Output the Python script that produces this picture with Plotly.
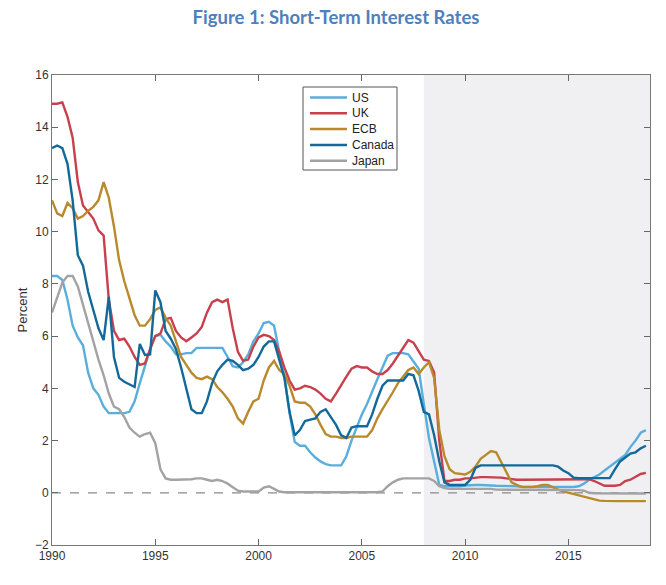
import plotly.graph_objects as go

start_year = 1990
n_quarters = 116
quarters = [start_year + q / 4 for q in range(n_quarters)]

us = [
    8.3, 8.3, 8.15, 7.4,
    6.4, 5.95, 5.65, 4.6,
    4.0, 3.75, 3.3, 3.05,
    3.05, 3.05, 3.05, 3.1,
    3.5, 4.2, 4.9, 5.5,
    6.0, 6.05, 5.8, 5.6,
    5.3, 5.3, 5.35, 5.35,
    5.55, 5.55, 5.55, 5.55,
    5.55, 5.55, 5.2, 4.85,
    4.8, 5.0, 5.3, 5.8,
    6.1, 6.5, 6.55, 6.4,
    5.4, 4.5, 3.05, 1.95,
    1.8, 1.8, 1.55, 1.35,
    1.2, 1.1, 1.05, 1.05,
    1.05, 1.4, 2.0, 2.5,
    3.0, 3.4, 3.9, 4.35,
    4.8, 5.25, 5.35, 5.35,
    5.35, 5.3, 5.0, 4.75,
    3.4, 2.1, 1.2, 0.3,
    0.25, 0.25, 0.25, 0.25,
    0.28, 0.3, 0.3, 0.3,
    0.3, 0.28, 0.27, 0.27,
    0.25, 0.25, 0.25, 0.23,
    0.22, 0.22, 0.22, 0.22,
    0.22, 0.22, 0.22, 0.22,
    0.22, 0.22, 0.25, 0.35,
    0.5, 0.6, 0.7, 0.85,
    1.0, 1.15, 1.3, 1.45,
    1.75, 2.0, 2.3, 2.4,
]

uk = [
    14.9, 14.9, 14.95, 14.4,
    13.6, 11.9, 11.0, 10.75,
    10.5, 10.05, 9.85, 7.4,
    6.2, 5.85, 5.9, 5.6,
    5.2, 4.9, 4.95, 5.5,
    6.0, 6.1, 6.65, 6.7,
    6.2, 5.95, 5.8, 5.95,
    6.1, 6.35, 6.9, 7.3,
    7.4, 7.3, 7.4, 6.3,
    5.4, 5.05, 5.1, 5.6,
    5.95, 6.05, 6.0, 5.85,
    5.4, 4.8, 4.3, 3.95,
    4.0, 4.1, 4.05, 3.95,
    3.8, 3.6, 3.5, 3.8,
    4.15, 4.45, 4.75, 4.85,
    4.8, 4.8, 4.65, 4.55,
    4.55, 4.7, 4.95, 5.25,
    5.5, 5.85, 5.75, 5.4,
    5.1, 5.05, 4.6, 2.0,
    0.45, 0.45, 0.5, 0.5,
    0.55, 0.55, 0.58, 0.6,
    0.6, 0.6, 0.6, 0.58,
    0.55, 0.52, 0.5, 0.5,
    0.5, 0.5, 0.5, 0.5,
    0.5, 0.5, 0.52, 0.52,
    0.52, 0.52, 0.52, 0.52,
    0.52, 0.45, 0.35, 0.27,
    0.27, 0.27, 0.3, 0.45,
    0.5, 0.6, 0.72, 0.76,
]

ecb = [
    11.2, 10.7, 10.6, 11.1,
    10.9, 10.5, 10.6, 10.8,
    10.95, 11.2, 11.9, 11.3,
    10.2, 8.9, 8.1, 7.4,
    6.8, 6.4, 6.4, 6.65,
    7.0, 7.1, 6.7, 6.4,
    5.8, 5.2, 4.9, 4.6,
    4.4, 4.35, 4.45, 4.35,
    4.05, 3.85, 3.6, 3.3,
    2.85, 2.65, 3.1, 3.5,
    3.6, 4.3, 4.8, 5.05,
    4.7, 4.55, 4.1, 3.5,
    3.45, 3.45, 3.3, 3.0,
    2.6, 2.25, 2.15, 2.15,
    2.1, 2.1, 2.15, 2.15,
    2.15, 2.15, 2.4, 2.85,
    3.2, 3.5, 3.85, 4.2,
    4.45, 4.7, 4.8, 4.55,
    4.8, 5.0, 4.4, 2.4,
    1.4, 0.9, 0.75, 0.72,
    0.7, 0.8, 1.0, 1.3,
    1.45, 1.6, 1.55, 1.15,
    0.75, 0.4, 0.3, 0.22,
    0.22, 0.22, 0.25, 0.3,
    0.3, 0.2, 0.12, 0.05,
    0.0, -0.05, -0.1, -0.15,
    -0.22, -0.27, -0.3, -0.31,
    -0.32, -0.32, -0.32, -0.32,
    -0.32, -0.32, -0.32, -0.32,
]

canada = [
    13.2, 13.3, 13.2, 12.6,
    11.2, 9.1, 8.7, 7.7,
    7.0, 6.3, 5.85, 7.5,
    5.2, 4.4, 4.25, 4.15,
    4.05, 5.7, 5.28, 5.3,
    7.75, 7.3, 6.2, 5.9,
    5.5, 4.8, 3.95, 3.2,
    3.05, 3.05, 3.5, 4.2,
    4.65, 4.9, 5.1, 5.05,
    4.9, 4.7, 4.75, 4.9,
    5.2, 5.6, 5.8, 5.8,
    5.1, 4.4, 3.1, 2.2,
    2.4, 2.75, 2.8, 2.85,
    3.1, 3.2, 2.9, 2.6,
    2.2, 2.1, 2.5, 2.55,
    2.55, 2.55, 3.0, 3.6,
    4.1, 4.3, 4.3, 4.3,
    4.3, 4.55, 4.5, 3.9,
    3.1, 3.0, 2.2, 1.2,
    0.4, 0.3, 0.3, 0.3,
    0.3, 0.5, 0.95, 1.05,
    1.05, 1.05, 1.05, 1.05,
    1.05, 1.05, 1.05, 1.05,
    1.05, 1.05, 1.05, 1.05,
    1.05, 1.05, 1.0, 0.85,
    0.75, 0.58, 0.56, 0.56,
    0.56, 0.56, 0.56, 0.56,
    0.56, 0.9, 1.2, 1.35,
    1.5, 1.55, 1.7, 1.8,
]

japan = [
    6.9, 7.5, 8.05, 8.3,
    8.3, 7.9, 7.2, 6.4,
    5.7, 5.1, 4.5, 3.8,
    3.3, 3.2, 2.9, 2.5,
    2.3, 2.15, 2.25, 2.3,
    1.9, 0.9, 0.55, 0.5,
    0.5, 0.5, 0.5, 0.52,
    0.55, 0.55, 0.5, 0.45,
    0.5, 0.45, 0.35, 0.2,
    0.08, 0.05, 0.05, 0.05,
    0.05, 0.2, 0.25, 0.15,
    0.05, 0.02, 0.02, 0.02,
    0.02, 0.02, 0.02, 0.02,
    0.02, 0.02, 0.02, 0.02,
    0.02, 0.02, 0.02, 0.02,
    0.02, 0.02, 0.02, 0.02,
    0.05, 0.25, 0.4, 0.5,
    0.55, 0.55, 0.55, 0.55,
    0.55, 0.55, 0.45, 0.25,
    0.18, 0.15, 0.15, 0.15,
    0.15, 0.15, 0.15, 0.15,
    0.15, 0.15, 0.12, 0.12,
    0.12, 0.12, 0.12, 0.12,
    0.12, 0.12, 0.12, 0.12,
    0.12, 0.12, 0.1, 0.1,
    0.1, 0.1, 0.1, 0.08,
    0.0, -0.02, -0.02, -0.02,
    -0.02, -0.02, -0.02, -0.02,
    -0.03, -0.03, -0.03, -0.03,
]

series_names = ["US", "UK", "ECB", "Canada", "Japan"]
series_values = [us, uk, ecb, canada, japan]
series_colors = ["#5aaedd", "#c7404c", "#b98a2c", "#13699a", "#a3a3a3"]

shade_start = 2008
x_range = [1990, 2018.95]
y_range = [-2, 16]
x_ticks = [1990, 1995, 2000, 2005, 2010, 2015]
y_ticks = [-2, 0, 2, 4, 6, 8, 10, 12, 14, 16]

W, H = 666, 585
ML, MR, MT, MB = 52, 16, 75, 40
PW, PH = W - ML - MR, H - MT - MB


def px_x(px):
    return (px - ML) / PW


def px_y(py):
    return (H - MB - py) / PH


fig = go.Figure()
for name, vals, col in zip(series_names, series_values, series_colors):
    fig.add_trace(go.Scatter(x=quarters, y=vals, mode="lines", name=name,
                             line=dict(color=col, width=2.4), showlegend=False))

fig.add_shape(type="rect", xref="x", yref="paper", x0=shade_start, x1=x_range[1],
              y0=0, y1=1, fillcolor="#f0f0f3", line_width=0, layer="below")
fig.add_shape(type="line", xref="paper", yref="y", x0=0, x1=1, y0=0, y1=0,
              line=dict(color="#8a8a8a", width=1.3, dash="dash"), layer="below")

# manual legend box (matches compact MATLAB-style legend)
fig.add_shape(type="rect", xref="paper", yref="paper",
              x0=px_x(303), x1=px_x(397), y0=px_y(170), y1=px_y(87),
              fillcolor="white", line=dict(color="#555555", width=1), layer="above")
row_y = [97.5, 113.2, 129, 145, 160.8]
for name, col, ry in zip(series_names, series_colors, row_y):
    fig.add_shape(type="line", xref="paper", yref="paper",
                  x0=px_x(310), x1=px_x(347), y0=px_y(ry), y1=px_y(ry),
                  line=dict(color=col, width=2.6), layer="above")
    fig.add_annotation(xref="paper", yref="paper", x=px_x(350), y=px_y(ry),
                       text=name, showarrow=False, xanchor="left", yanchor="middle",
                       font=dict(family="Liberation Sans, Arial", size=12, color="#222222"))

axis_font = dict(family="Liberation Sans, Arial", size=12, color="#333333")
fig.update_layout(
    width=W, height=H,
    margin=dict(l=ML, r=MR, t=MT, b=MB, autoexpand=False),
    paper_bgcolor="white", plot_bgcolor="white",
    title=dict(text="<b>Figure 1: Short-Term Interest Rates</b>", x=336 / W,
               xref="container", xanchor="center", y=1 - 18 / H, yanchor="middle",
               font=dict(family="Lato, Open Sans", size=18.5, color="#4f7fbc")),
    showlegend=False,
    xaxis=dict(range=x_range, tickvals=x_ticks, ticktext=[str(t) for t in x_ticks],
               ticks="inside", ticklen=6, tickcolor="#666666", showgrid=False,
               zeroline=False, showline=True, linecolor="#777777", linewidth=1,
               mirror="ticks", tickfont=axis_font, automargin=False),
    yaxis=dict(range=y_range, tickvals=y_ticks, ticks="inside", ticklen=6,
               tickcolor="#666666", showgrid=False, zeroline=False, showline=True,
               linecolor="#777777", linewidth=1, mirror="ticks", tickfont=axis_font,
               automargin=False,
               title=dict(text="Percent", font=dict(family="Liberation Sans, Arial",
                                                    size=13, color="#333333"),
                          standoff=4)),
)

fig.write_html("out.html", config={"displayModeBar": False},
               post_script="document.body.style.margin='0px';")
